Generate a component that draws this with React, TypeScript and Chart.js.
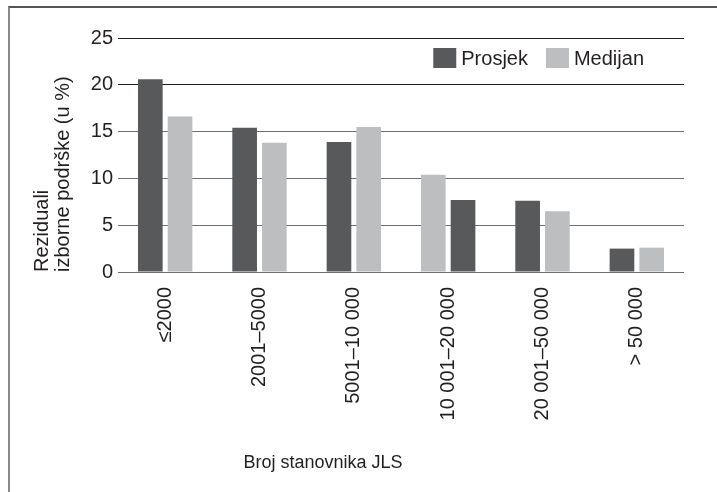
import React, { useEffect, useRef } from 'react';
import { Chart, registerables } from 'chart.js';

Chart.register(...registerables);

const categories = ['≤2000', '2001–5000', '5001–10 000', '10 001–20 000', '20 001–50 000', '> 50 000'];
const seriesNames = ['Prosjek', 'Medijan'];
const prosjek = [20.6, 15.4, 13.9, 7.7, 7.6, 2.5];
const medijan = [16.6, 13.8, 15.5, 10.4, 6.5, 2.6];
// in the 10 001–20 000 group the median bar is drawn first
const medianFirst = [false, false, false, true, false, false];
const yTicks = [0, 5, 10, 15, 20, 25];
const yTitle = ['Reziduali', 'izborne podrške (u %)'];
const xTitle = 'Broj stanovnika JLS';

const DARK = '#58595b';
const LIGHT = '#bcbec0';
const TEXT = '#231f20';
const FONT = "'Liberation Sans', Arial, Helvetica, sans-serif";
const seriesColors = [DARK, LIGHT];

const overlayPlugin = {
  id: 'overlayPlugin',
  afterDraw(chart: any) {
    const { ctx, chartArea } = chart;
    ctx.save();
    ctx.font = `20px ${FONT}`;
    ctx.textBaseline = 'middle';
    ctx.textAlign = 'left';
    const boxW = 23;
    const boxH = 20;
    const gapBox = 5;
    const gapItem = 18;
    const widths = seriesNames.map((n) => ctx.measureText(n).width);
    const total =
      widths.reduce((a: number, w: number) => a + boxW + gapBox + w, 0) + gapItem * (seriesNames.length - 1);
    let x = chartArea.right - 40 - total;
    const cy = chartArea.top + 20;
    seriesNames.forEach((n, i) => {
      ctx.fillStyle = seriesColors[i];
      ctx.fillRect(x, cy - boxH / 2, boxW, boxH);
      x += boxW + gapBox;
      ctx.fillStyle = TEXT;
      ctx.fillText(n, x, cy + 1);
      x += widths[i] + gapItem;
    });
    ctx.font = `18px ${FONT}`;
    ctx.textAlign = 'center';
    ctx.fillStyle = TEXT;
    ctx.fillText(xTitle, chartArea.left + 205, chartArea.bottom + 191);
    ctx.restore();
  },
};

export default function App() {
  const canvasRef = useRef<HTMLCanvasElement | null>(null);

  useEffect(() => {
    const canvas = canvasRef.current;
    if (!canvas) return;
    const slot1 = categories.map((_, i) => (medianFirst[i] ? medijan[i] : prosjek[i]));
    const slot2 = categories.map((_, i) => (medianFirst[i] ? prosjek[i] : medijan[i]));
    const col1 = categories.map((_, i) => (medianFirst[i] ? LIGHT : DARK));
    const col2 = categories.map((_, i) => (medianFirst[i] ? DARK : LIGHT));

    const chart = new Chart(canvas, {
      type: 'bar',
      data: {
        labels: categories,
        datasets: [
          { label: seriesNames[0], data: slot1, backgroundColor: col1, borderWidth: 0 },
          { label: seriesNames[1], data: slot2, backgroundColor: col2, borderWidth: 0 },
        ],
      },
      options: {
        responsive: false,
        animation: false,
        devicePixelRatio: 1,
        categoryPercentage: 0.63,
        barPercentage: 0.83,
        layout: { padding: { top: 30, right: 33, bottom: 0, left: 0 } },
        plugins: {
          legend: { display: false },
          tooltip: { enabled: false },
        },
        scales: {
          x: {
            grid: { display: false, drawTicks: false },
            border: { display: false },
            ticks: {
              autoSkip: false,
              minRotation: 90,
              maxRotation: 90,
              padding: 15,
              color: TEXT,
              font: { family: FONT, size: 20 },
            },
            afterFit: (s: any) => {
              s.height = 220;
            },
          },
          y: {
            min: 0,
            max: 25,
            afterBuildTicks: (s: any) => {
              s.ticks = yTicks.map((v) => ({ value: v }));
            },
            ticks: { padding: 5, color: TEXT, font: { family: FONT, size: 20 } },
            grid: {
              drawTicks: false,
              lineWidth: 1,
              color: (c: any) => (c.tick && c.tick.value >= 20 ? '#231f20' : '#6d6e71'),
            },
            border: { display: false },
            title: {
              display: true,
              text: yTitle,
              align: 'start',
              color: TEXT,
              font: { family: FONT, size: 20, lineHeight: 1.05 },
              padding: { top: 22, bottom: 0 },
            },
            afterFit: (s: any) => {
              s.width = 108;
            },
          },
        },
      },
      plugins: [overlayPlugin],
    });
    return () => chart.destroy();
  }, []);

  return (
    <div
      style={{
        position: 'fixed',
        left: 8,
        top: 6,
        width: 707,
        height: 484,
        borderTop: '2px solid #555',
        borderLeft: '2px solid #8a8a8a',
        background: '#fff',
      }}
    >
      <canvas ref={canvasRef} width={707} height={484} style={{ display: 'block', width: 707, height: 484 }} />
    </div>
  );
}
